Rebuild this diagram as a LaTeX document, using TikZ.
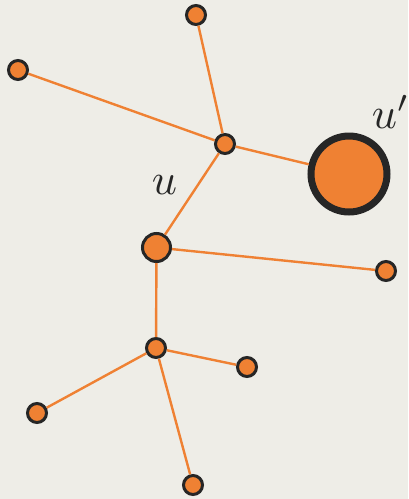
\documentclass[tikz,border=0pt]{standalone}
\usepackage{amsmath,amssymb}
\usetikzlibrary{positioning}
\definecolor{orange}{HTML}{EF8133}
\definecolor{ink}{HTML}{262626}
\definecolor{paper}{HTML}{EEEDE7}
\tikzset{
  vert/.style={circle,fill=orange,draw=ink,line width=3pt,inner sep=0pt,minimum size=19pt},
  midvert/.style={vert,minimum size=28pt},
  bigvert/.style={vert,line width=7pt,minimum size=76pt},
  edge/.style={orange,line width=2.4pt},
  lbl/.style={text=ink,inner sep=0pt,scale=4.4}
}

\begin{document}
\begin{tikzpicture}[x=1pt,y=-1pt]
  \useasboundingbox[fill=paper] (0,0) rectangle (408,499);
  % vertices
  \node[vert] (top) at (196,15) {};
  \node[vert] (left) at (18,70) {};
  \node[vert] (hub) at (225,144) {};
  \node[bigvert] (up) at (349,174) {};
  \node[midvert] (u) at (156.5,247.5) {};
  \node[vert] (right) at (386,271) {};
  \node[vert] (low) at (156,348) {};
  \node[vert] (lowr) at (247,367) {};
  \node[vert] (lowl) at (37,413) {};
  \node[vert] (bot) at (193,485) {};
  % edges
  \foreach \a/\b in {hub/top,hub/left,hub/up,hub/u,u/right,u/low,low/lowr,low/lowl,low/bot}
    \draw[edge] (\a) -- (\b);
  % labels
  \node[lbl] (ulbl) at (164.5,185.5) {$u$};
  \node[lbl,anchor=west] (uplbl) at (371,112) {$u'$};
\end{tikzpicture}
\end{document}
